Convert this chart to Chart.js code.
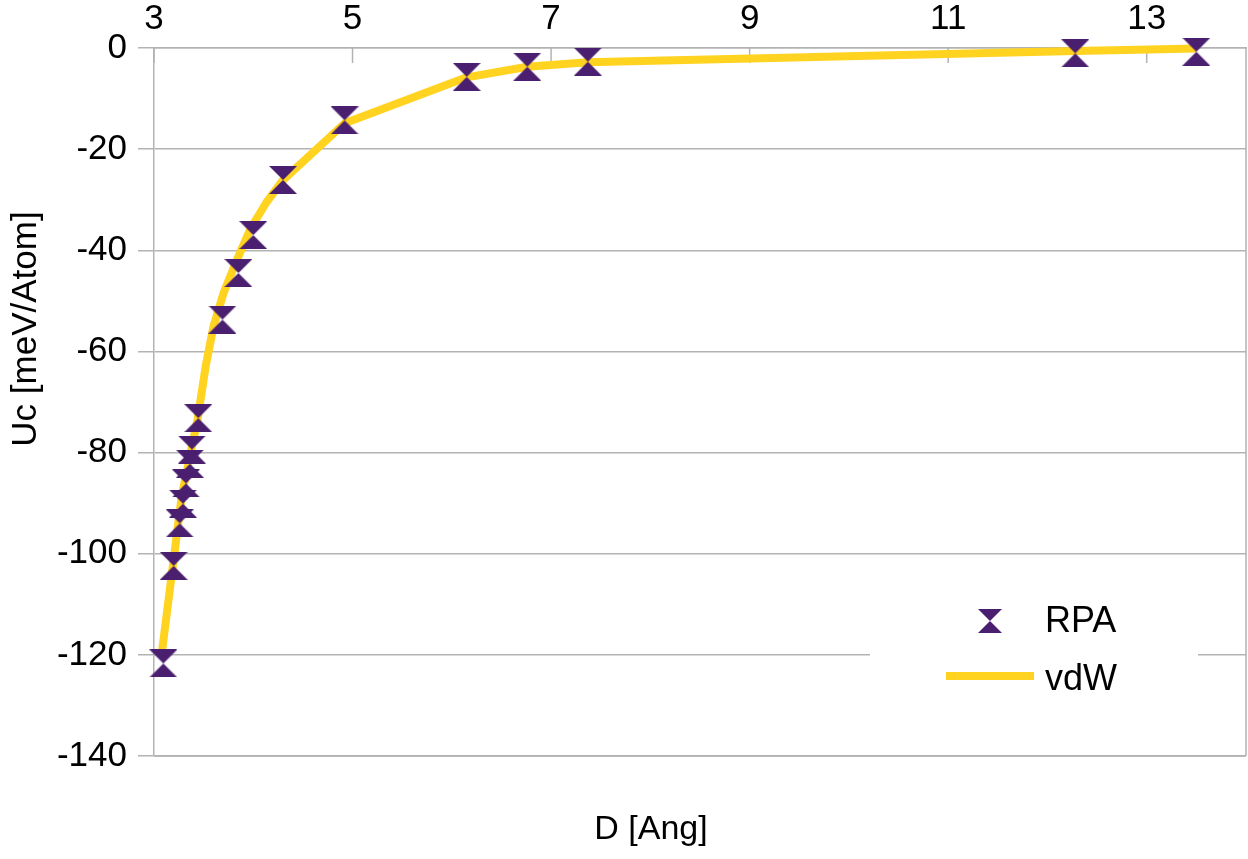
<!DOCTYPE html>
<html>
<head>
<meta charset="utf-8">
<script src="https://cdn.jsdelivr.net/npm/chart.js@4.4.1/dist/chart.umd.min.js"></script>
<style>
  html, body { margin: 0; padding: 0; background: #fff; }
</style>
</head>
<body>
<canvas id="uc-chart" width="1248" height="859"></canvas>
<script>
const X_TICKS = [3, 5, 7, 9, 11, 13];

// RPA points: D [Ang], Uc [meV/Atom]
const RPA_D = [3.094, 3.198, 3.259, 3.292, 3.322, 3.362, 3.382, 3.446, 3.69, 3.85, 4.00, 4.30, 4.92, 6.15, 6.76, 7.37, 12.28, 13.50];
const RPA_U = [-121.7, -102.4, -94.0, -90.1, -86.1, -82.2, -79.4, -73.2, -53.7, -44.5, -37.0, -26.1, -14.3, -5.7, -3.7, -2.7, -1.05, -0.73];

// vdW curve
const VDW_D = [3.075, 3.19, 3.28, 3.44, 3.52, 3.60, 3.70, 3.82, 3.97, 4.13, 4.30, 4.92, 6.15, 6.76, 7.37, 12.28, 13.50];
const VDW_U = [-120.2, -102.4, -88.5, -73.3, -63.0, -55.0, -48.5, -42.6, -35.8, -30.6, -26.1, -14.9, -5.8, -3.7, -2.8, -0.6, -0.1];

const FONT = "'Liberation Sans', Arial, sans-serif";
const GRID = '#b3b3b3';
const PURPLE = '#4b1f6f';
const YELLOW = '#ffd320';

// hourglass marker (two triangles meeting at the centre)
function hourglass(size){
  const c = document.createElement('canvas');
  c.width = size; c.height = size;
  const g = c.getContext('2d');
  g.fillStyle = PURPLE;
  g.beginPath();
  g.moveTo(0, 0); g.lineTo(size, 0); g.lineTo(0, size); g.lineTo(size, size);
  g.closePath();
  g.fill();
  return c;
}
const marker = hourglass(28);
const legendMarker = hourglass(24);

// inward ticks on the top axis, right/bottom frame, legend and titles
const framePlugin = {
  id: 'frame',
  beforeDatasetsDraw(chart){
    const {ctx, chartArea: a, scales} = chart;
    ctx.save();
    ctx.strokeStyle = GRID;
    ctx.lineWidth = 1.5;
    ctx.beginPath();
    ctx.moveTo(a.right, a.top); ctx.lineTo(a.right, a.bottom);
    ctx.moveTo(a.left, a.bottom); ctx.lineTo(a.right, a.bottom);
    X_TICKS.forEach(v => {
      const px = scales.x.getPixelForValue(v);
      ctx.moveTo(px, a.top); ctx.lineTo(px, a.top + 15);
    });
    ctx.stroke();
    ctx.restore();
  },
  afterDraw(chart){
    const {ctx} = chart;
    const ds = chart.data.datasets;
    ctx.save();
    ctx.fillStyle = '#fff';
    ctx.fillRect(870, 588, 328, 128);
    ctx.drawImage(legendMarker, 990 - 12, 621 - 12);
    ctx.strokeStyle = YELLOW;
    ctx.lineWidth = 8;
    ctx.beginPath();
    ctx.moveTo(946, 676); ctx.lineTo(1034, 676);
    ctx.stroke();
    ctx.fillStyle = '#000';
    ctx.font = '36px ' + FONT;
    ctx.textBaseline = 'middle';
    ctx.textAlign = 'left';
    ctx.fillText(ds[0].label, 1045, 622);
    ctx.fillText(ds[1].label, 1045, 680);
    ctx.textAlign = 'center';
    ctx.font = '34px ' + FONT;
    ctx.fillText('D [Ang]', 651, 830);
    ctx.font = '35px ' + FONT;
    ctx.translate(26, 329);
    ctx.rotate(-Math.PI / 2);
    ctx.fillText('Uc [meV/Atom]', 0, 0);
    ctx.restore();
  }
};

const ctx = document.getElementById('uc-chart');
new Chart(ctx, {
  type: 'scatter',
  data: {
    datasets: [{
      label: 'RPA',
      data: RPA_D.map((d, i) => ({x: d, y: RPA_U[i]})),
      showLine: false,
      pointStyle: marker,
      pointRadius: 14,
      backgroundColor: PURPLE,
      borderColor: PURPLE,
      clip: false
    }, {
      label: 'vdW',
      data: VDW_D.map((d, i) => ({x: d, y: VDW_U[i]})),
      showLine: true,
      borderColor: YELLOW,
      borderWidth: 8,
      borderJoinStyle: 'round',
      pointRadius: 0,
      tension: 0,
      fill: false,
      clip: false
    }]
  },
  options: {
    responsive: false,
    animation: false,
    layout: { autoPadding: false, padding: { left: 0, right: 2, top: 0, bottom: 103 } },
    plugins: { legend: { display: false }, tooltip: { enabled: false } },
    scales: {
      x: {
        type: 'linear',
        position: 'top',
        min: 3,
        max: 14,
        afterBuildTicks: s => { s.ticks = X_TICKS.map(v => ({value: v})); },
        afterFit: s => { s.height = 48; s.paddingLeft = 0; s.paddingRight = 0; },
        grid: { display: false, drawTicks: false },
        border: { display: true, color: GRID, width: 1.5 },
        ticks: { font: { family: FONT, size: 35 }, color: '#000', padding: 8, maxRotation: 0, autoSkip: false }
      },
      y: {
        min: -140,
        max: 0,
        afterFit: s => { s.width = 154; s.paddingTop = 0; s.paddingBottom = 0; },
        grid: { color: GRID, lineWidth: 1.5, tickLength: 16, drawTicks: true },
        border: { display: true, color: GRID, width: 1.5 },
        ticks: { stepSize: 20, font: { family: FONT, size: 35 }, color: '#000', padding: 11 }
      }
    }
  },
  plugins: [framePlugin]
});
</script>
</body>
</html>
